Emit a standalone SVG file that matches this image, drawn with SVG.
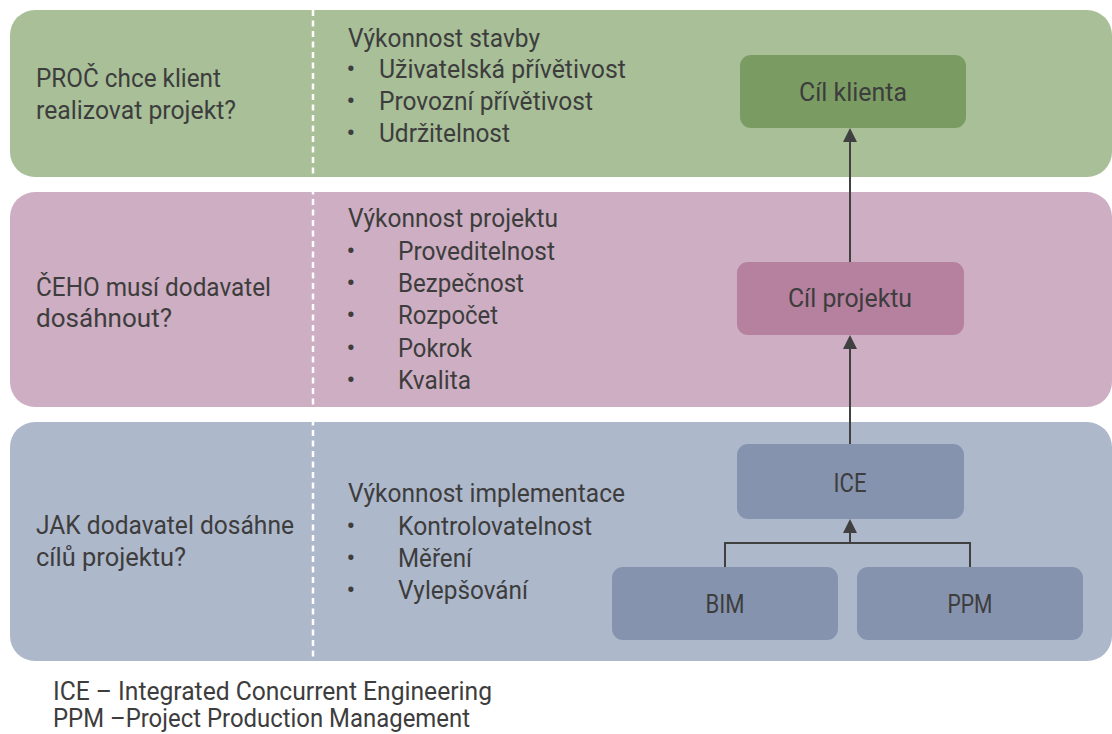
<svg xmlns="http://www.w3.org/2000/svg" width="1112" height="734" viewBox="0 0 1112 734">
<style>
text{font-family:Roboto,"Liberation Sans",sans-serif;font-size:25px;fill:#3d3d3d}
.c{text-anchor:middle}
.b{text-anchor:middle;font-size:26px}
.band-g{fill:#a8bf98}.band-p{fill:#cdaec2}.band-b{fill:#aeb8cb}
.n-g{fill:#7a9c62}.n-p{fill:#b6819f}.n-b{fill:#8593ae}
.sep{stroke:#ffffff;stroke-width:2.5;stroke-dasharray:6 4.5;fill:none}
.con{stroke:#404040;stroke-width:2;fill:none}
</style>
<defs>
<marker id="arr" viewBox="0 0 14 14" refX="0" refY="7" markerWidth="14" markerHeight="14" markerUnits="userSpaceOnUse" orient="auto">
<path d="M0,0 L14,7 L0,14 z" fill="#404040"/>
</marker>
</defs>
<g id="band-client">
<rect class="band-g" x="10" y="10" width="1102" height="167" rx="25"/>
<text x="36" y="87" textLength="185" lengthAdjust="spacingAndGlyphs">PROČ chce klient</text>
<text x="36" y="119" textLength="200" lengthAdjust="spacingAndGlyphs">realizovat projekt?</text>
<text x="348" y="47" textLength="192" lengthAdjust="spacingAndGlyphs">Výkonnost stavby</text>
<text class="b" x="351" y="78">•</text><text x="379" y="78" textLength="247" lengthAdjust="spacingAndGlyphs">Uživatelská přívětivost</text>
<text class="b" x="351" y="110">•</text><text x="379" y="110" textLength="214" lengthAdjust="spacingAndGlyphs">Provozní přívětivost</text>
<text class="b" x="351" y="142">•</text><text x="379" y="142" textLength="131" lengthAdjust="spacingAndGlyphs">Udržitelnost</text>
</g>
<g id="band-project">
<rect class="band-p" x="10" y="192" width="1102" height="215" rx="25"/>
<text x="36" y="296" textLength="235" lengthAdjust="spacingAndGlyphs">ČEHO musí dodavatel</text>
<text x="36" y="327" textLength="136" lengthAdjust="spacingAndGlyphs">dosáhnout?</text>
<text x="348" y="227" textLength="210" lengthAdjust="spacingAndGlyphs">Výkonnost projektu</text>
<text class="b" x="351" y="260">•</text><text x="398" y="260" textLength="157" lengthAdjust="spacingAndGlyphs">Proveditelnost</text>
<text class="b" x="351" y="292">•</text><text x="398" y="292" textLength="126" lengthAdjust="spacingAndGlyphs">Bezpečnost</text>
<text class="b" x="351" y="324">•</text><text x="398" y="324" textLength="100" lengthAdjust="spacingAndGlyphs">Rozpočet</text>
<text class="b" x="351" y="357">•</text><text x="398" y="357" textLength="74" lengthAdjust="spacingAndGlyphs">Pokrok</text>
<text class="b" x="351" y="389">•</text><text x="398" y="389" textLength="73" lengthAdjust="spacingAndGlyphs">Kvalita</text>
</g>
<g id="band-impl">
<rect class="band-b" x="10" y="422" width="1102" height="239" rx="25"/>
<text x="36" y="534" textLength="258" lengthAdjust="spacingAndGlyphs">JAK dodavatel dosáhne</text>
<text x="36" y="566" textLength="150" lengthAdjust="spacingAndGlyphs">cílů projektu?</text>
<text x="348" y="502" textLength="277" lengthAdjust="spacingAndGlyphs">Výkonnost implementace</text>
<text class="b" x="351" y="535">•</text><text x="398" y="535" textLength="194" lengthAdjust="spacingAndGlyphs">Kontrolovatelnost</text>
<text class="b" x="351" y="567">•</text><text x="398" y="567" textLength="74" lengthAdjust="spacingAndGlyphs">Měření</text>
<text class="b" x="351" y="599">•</text><text x="398" y="599" textLength="130" lengthAdjust="spacingAndGlyphs">Vylepšování</text>
</g>
<path class="sep" d="M313,10 V661"/>
<g id="node-cil-klienta">
<rect class="n-g" x="740" y="55" width="226" height="73" rx="11"/>
<text class="c" x="853" y="101" textLength="108" lengthAdjust="spacingAndGlyphs">Cíl klienta</text>
</g>
<g id="node-cil-projektu">
<rect class="n-p" x="737" y="262" width="227" height="73" rx="11"/>
<text class="c" x="850" y="307" textLength="124" lengthAdjust="spacingAndGlyphs">Cíl projektu</text>
</g>
<g id="node-ice">
<rect class="n-b" x="737" y="444" width="227" height="75" rx="11"/>
<text class="c" x="850" y="492" textLength="33" lengthAdjust="spacingAndGlyphs">ICE</text>
</g>
<g id="node-bim">
<rect class="n-b" x="612" y="567" width="226" height="73" rx="11"/>
<text class="c" x="725" y="613" textLength="39" lengthAdjust="spacingAndGlyphs">BIM</text>
</g>
<g id="node-ppm">
<rect class="n-b" x="857" y="567" width="226" height="73" rx="11"/>
<text class="c" x="970" y="613" textLength="45" lengthAdjust="spacingAndGlyphs">PPM</text>
</g>
<g id="connectors">
<path class="con" d="M850,262 V142" marker-end="url(#arr)"/>
<path class="con" d="M850,444 V349" marker-end="url(#arr)"/>
<path class="con" d="M725,567 V543 H970 V567"/>
<path class="con" d="M850,543 V533" marker-end="url(#arr)"/>
</g>
<g id="legend">
<text x="53" y="700" textLength="439" lengthAdjust="spacingAndGlyphs">ICE – Integrated Concurrent Engineering</text>
<text x="53" y="727" textLength="417" lengthAdjust="spacingAndGlyphs">PPM –Project Production Management</text>
</g>
</svg>
